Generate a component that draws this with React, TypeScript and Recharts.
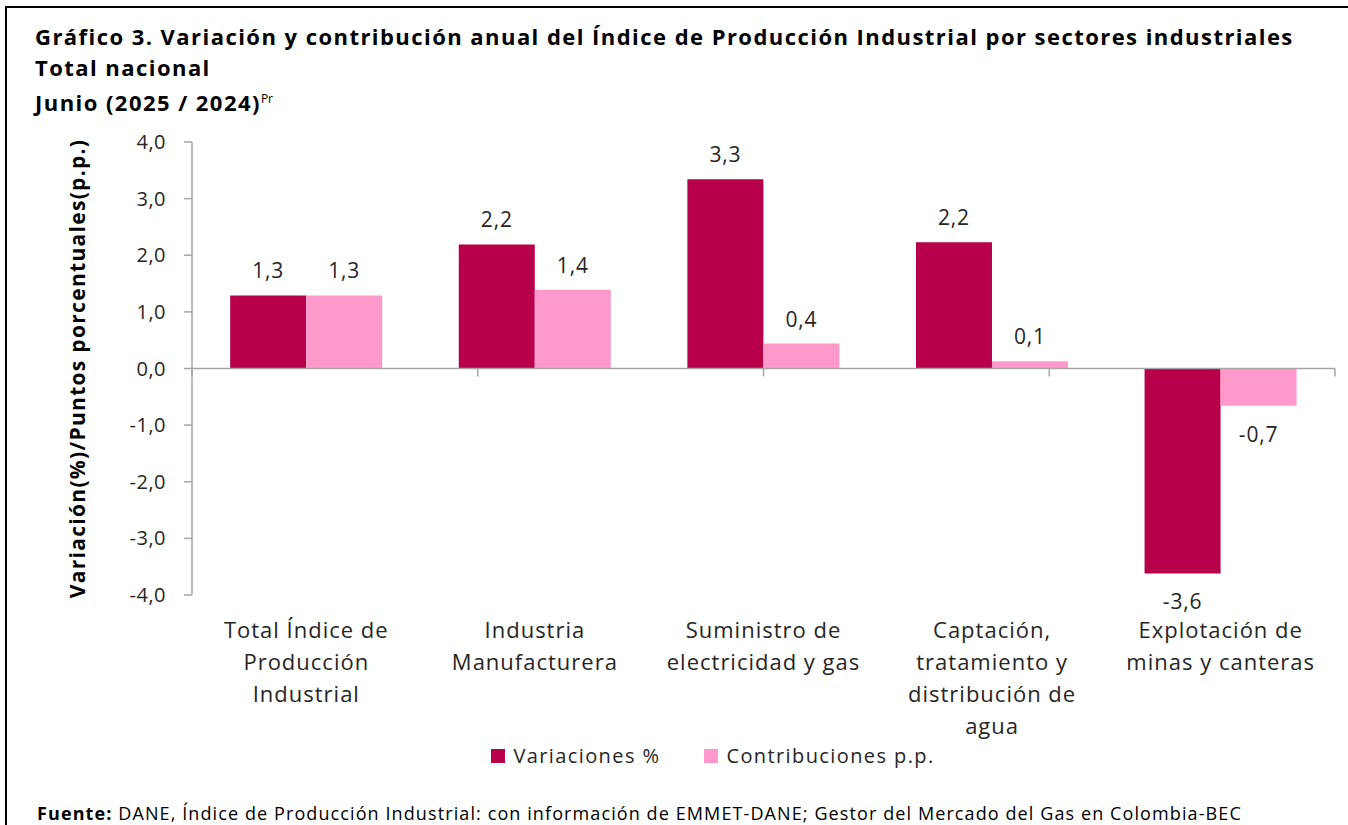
import React from 'react';
import { BarChart, Bar, XAxis, YAxis, ReferenceLine, LabelList, Legend } from 'recharts';

const categories = [
  ['Total Índice de', 'Producción', 'Industrial'],
  ['Industria', 'Manufacturera'],
  ['Suministro de', 'electricidad y gas'],
  ['Captación,', 'tratamiento y', 'distribución de', 'agua'],
  ['Explotación de', 'minas y canteras'],
];
const variaciones = [1.29, 2.19, 3.34, 2.23, -3.62];
const contribuciones = [1.29, 1.39, 0.44, 0.13, -0.66];
const yTicks = [-4, -3, -2, -1, 0, 1, 2, 3, 4];

const DARK = '#B70049';
const PINK = '#FF99CC';
const AXIS = '#A6A6A6';
const TEXT = '#262626';
const FONT = '"Open Sans", sans-serif';

const data = categories.map((lines, i) => ({
  name: lines.join(' '),
  lines,
  variacion: variaciones[i],
  contribucion: contribuciones[i],
}));

const boundaries = categories.map((_, i) => i).concat(categories.length);

const fmt = (v: number) => v.toFixed(1).replace('.', ',');

function CategoryTick(props: any) {
  const { x, y, payload, index } = props;
  const lines: string[] = data[index]?.lines ?? [String(payload.value)];
  return (
    <text x={x} y={y} textAnchor="middle" fill={TEXT} fontSize={22} letterSpacing={1} fontFamily={FONT}>
      {lines.map((l, i) => (
        <tspan key={i} x={x} dy={i === 0 ? 35 : 32}>
          {l}
        </tspan>
      ))}
    </text>
  );
}

function ValueLabel(props: any) {
  const { x, y, width, height, value } = props;
  const top = Math.min(y, y + height);
  const bottom = Math.max(y, y + height);
  const neg = value < 0;
  return (
    <text
      x={x + width / 2}
      y={neg ? bottom + 36 : top - 17}
      textAnchor="middle"
      fill={TEXT}
      fontSize={21}
      letterSpacing={0.8}
      fontFamily={FONT}
    >
      {fmt(value)}
    </text>
  );
}

function LegendContent() {
  const items = [
    { label: 'Variaciones %', color: DARK },
    { label: 'Contribuciones p.p.', color: PINK },
  ];
  return (
    <div
      style={{
        display: 'flex',
        justifyContent: 'center',
        gap: 44,
        fontFamily: FONT,
        fontSize: 20,
        letterSpacing: 1.4,
        color: TEXT,
        paddingLeft: 78,
      }}
    >
      {items.map((it) => (
        <div key={it.label} style={{ display: 'flex', alignItems: 'center', gap: 8 }}>
          <span style={{ width: 14, height: 14, background: it.color, display: 'inline-block' }} />
          <span>{it.label}</span>
        </div>
      ))}
    </div>
  );
}

export default function App() {
  return (
    <div
      style={{
        position: 'absolute',
        top: 0,
        left: 0,
        width: 1348,
        height: 825,
        background: '#fff',
        overflow: 'hidden',
      }}
    >
      <div
        style={{
          position: 'absolute',
          left: 5,
          top: 6,
          width: 1400,
          height: 900,
          borderLeft: '2px solid #000',
          borderTop: '2px solid #000',
        }}
      />
      <div
        style={{
          position: 'absolute',
          left: 35,
          top: 21,
          fontFamily: FONT,
          fontWeight: 700,
          fontSize: 22,
          letterSpacing: 1.45,
          lineHeight: '31px',
          color: '#000',
          whiteSpace: 'nowrap',
        }}
      >
        <div>Gráfico 3. Variación y contribución anual del Índice de Producción Industrial por sectores industriales</div>
        <div>Total nacional</div>
        <div>
          Junio (2025 / 2024)<sup style={{ fontSize: 12, fontWeight: 400, letterSpacing: 0 }}>Pr</sup>
        </div>
      </div>

      <div style={{ position: 'absolute', left: 0, top: 0 }}>
        <BarChart
          width={1348}
          height={825}
          data={data}
          margin={{ top: 142, right: 13, left: 72, bottom: 74 }}
          barCategoryGap="16.7%"
          barGap={0}
        >
          <XAxis
            dataKey="name"
            axisLine={false}
            tickLine={false}
            tick={<CategoryTick />}
            interval={0}
            height={130}
          />
          <XAxis xAxisId="grid" type="number" domain={[0, categories.length]} hide />
          <YAxis
            domain={[-4, 4]}
            ticks={yTicks}
            tickFormatter={fmt}
            width={120}
            axisLine={{ stroke: AXIS, strokeWidth: 1.5 }}
            tickLine={{ stroke: AXIS, strokeWidth: 1.5 }}
            tickSize={8}
            tickMargin={18}
            tick={{ fill: TEXT, fontSize: 20, fontFamily: FONT, letterSpacing: 0.5 }}
            label={{
              value: 'Variación(%)/Puntos porcentuales(p.p.)',
              angle: -90,
              position: 'insideLeft',
              offset: 6,
              style: {
                textAnchor: 'middle',
                fontFamily: FONT,
                fontWeight: 700,
                fontSize: 21,
                letterSpacing: 1.3,
                fill: '#000',
              },
            }}
          />
          <ReferenceLine y={0} stroke={AXIS} strokeWidth={1.5} />
          {boundaries.map((b) => (
            <ReferenceLine
              key={b}
              xAxisId="grid"
              segment={[
                { x: b, y: 0 },
                { x: b, y: -0.14 },
              ]}
              stroke={AXIS}
              strokeWidth={1.5}
            />
          ))}
          <Bar dataKey="variacion" name="Variaciones %" fill={DARK} isAnimationActive={false}>
            <LabelList dataKey="variacion" content={<ValueLabel />} />
          </Bar>
          <Bar dataKey="contribucion" name="Contribuciones p.p." fill={PINK} isAnimationActive={false}>
            <LabelList dataKey="contribucion" content={<ValueLabel />} />
          </Bar>
          <Legend
            content={<LegendContent />}
            wrapperStyle={{ position: 'absolute', top: 742, left: 0, width: 1348, height: 26 }}
          />
        </BarChart>
      </div>

      <div
        style={{
          position: 'absolute',
          left: 37,
          top: 801,
          fontFamily: FONT,
          fontSize: 18,
          letterSpacing: 1.1,
          color: '#000',
          whiteSpace: 'nowrap',
        }}
      >
        <b>Fuente:</b> DANE, Índice de Producción Industrial: con información de EMMET-DANE; Gestor del Mercado del Gas en Colombia-BEC
      </div>
    </div>
  );
}
